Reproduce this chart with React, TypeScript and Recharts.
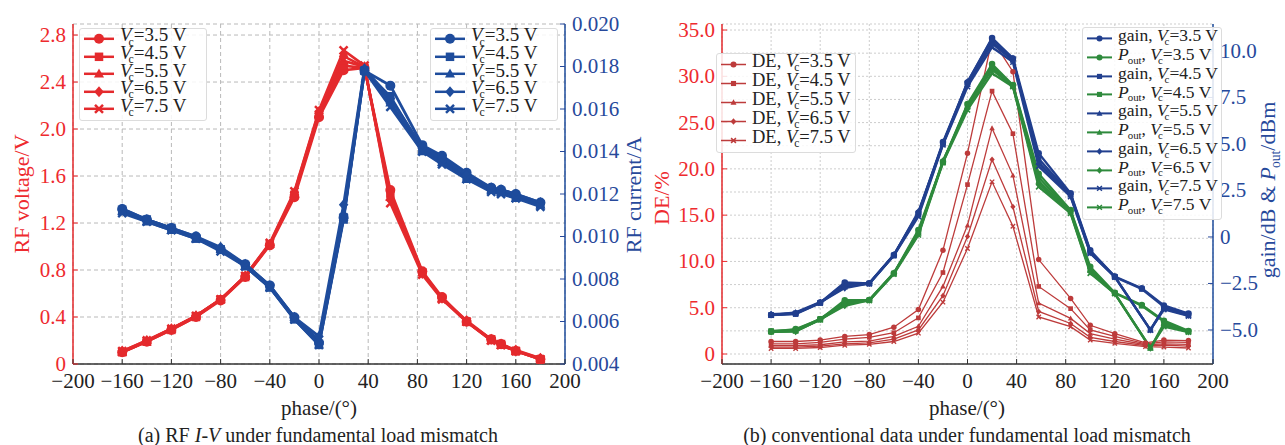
import React from 'react'
import { ComposedChart, Line, XAxis, YAxis, CartesianGrid, Legend } from 'recharts'

const FONT = '"Liberation Serif", "Times New Roman", serif'

// (a) RF I-V under fundamental load mismatch
const PHASE_A = [-160, -140, -120, -100, -80, -60, -40, -20, 0, 20, 37, 58, 84, 100, 120, 140, 148, 160, 180]
const VOLT_35 = [0.10, 0.19, 0.29, 0.40, 0.54, 0.74, 1.01, 1.42, 2.10, 2.50, 2.52, 1.48, 0.79, 0.57, 0.36, 0.21, 0.17, 0.11, 0.04]
const VOLT_45 = [0.10, 0.19, 0.29, 0.40, 0.55, 0.74, 1.02, 1.44, 2.12, 2.54, 2.52, 1.45, 0.78, 0.56, 0.36, 0.21, 0.17, 0.11, 0.04]
const VOLT_55 = [0.10, 0.19, 0.30, 0.41, 0.55, 0.75, 1.02, 1.45, 2.13, 2.58, 2.53, 1.42, 0.78, 0.56, 0.36, 0.20, 0.16, 0.11, 0.05]
const VOLT_65 = [0.11, 0.20, 0.30, 0.41, 0.55, 0.75, 1.02, 1.46, 2.15, 2.62, 2.53, 1.40, 0.77, 0.56, 0.37, 0.21, 0.17, 0.12, 0.05]
const VOLT_75 = [0.11, 0.20, 0.30, 0.41, 0.55, 0.75, 1.03, 1.47, 2.16, 2.67, 2.54, 1.37, 0.76, 0.55, 0.36, 0.20, 0.16, 0.11, 0.04]
const CURR_35 = [0.0113, 0.0108, 0.0104, 0.0100, 0.0094, 0.0087, 0.0077, 0.0062, 0.0050, 0.0109, 0.0178, 0.0171, 0.0143, 0.0138, 0.0130, 0.0123, 0.0122, 0.0120, 0.0116]
const CURR_45 = [0.0112, 0.0108, 0.0104, 0.0099, 0.0094, 0.0086, 0.0076, 0.0061, 0.0049, 0.0108, 0.0178, 0.0166, 0.0141, 0.0136, 0.0128, 0.0122, 0.0121, 0.0119, 0.0115]
const CURR_55 = [0.0112, 0.0107, 0.0103, 0.0099, 0.0094, 0.0086, 0.0076, 0.0062, 0.0051, 0.0110, 0.0179, 0.0163, 0.0140, 0.0135, 0.0127, 0.0122, 0.0121, 0.0118, 0.0115]
const CURR_65 = [0.0113, 0.0108, 0.0104, 0.0100, 0.0095, 0.0087, 0.0077, 0.0062, 0.0053, 0.0115, 0.0179, 0.0165, 0.0142, 0.0137, 0.0129, 0.0123, 0.0122, 0.0120, 0.0116]
const CURR_75 = [0.0111, 0.0107, 0.0103, 0.0099, 0.0093, 0.0086, 0.0076, 0.0061, 0.0049, 0.0109, 0.0178, 0.0161, 0.0140, 0.0134, 0.0127, 0.0121, 0.0120, 0.0118, 0.0114]

// (b) conventional data under fundamental load mismatch
const PHASE_DE = [-160, -140, -120, -100, -80, -60, -40, -20, 0, 20, 37, 58, 84, 100, 120, 145, 160, 180]
const PHASE_B1 = [-160, -140, -120, -100, -80, -60, -40, -20, 0, 20, 37, 58, 84, 100, 120, 142, 160, 180]
const PHASE_B2 = [-160, -140, -120, -100, -80, -60, -40, -20, 0, 20, 37, 58, 84, 100, 120, 149, 160, 180]
const DE_35 = [1.35, 1.35, 1.5, 1.9, 2.1, 2.9, 4.8, 11.2, 21.7, 34.0, 30.5, 10.2, 6.0, 3.1, 2.2, 1.2, 1.5, 1.45]
const DE_45 = [1.1, 1.1, 1.25, 1.6, 1.8, 2.3, 3.9, 8.8, 18.3, 28.4, 23.8, 7.3, 4.9, 2.6, 1.9, 1.1, 1.3, 1.25]
const DE_55 = [0.9, 0.9, 1.0, 1.3, 1.4, 1.9, 3.0, 7.3, 13.9, 24.4, 19.3, 5.5, 3.85, 2.2, 1.6, 1.0, 1.1, 1.05]
const DE_65 = [0.75, 0.75, 0.85, 1.1, 1.2, 1.6, 2.6, 6.3, 12.7, 21.0, 15.9, 4.6, 3.3, 1.8, 1.35, 0.9, 0.95, 0.85]
const DE_75 = [0.6, 0.6, 0.7, 0.95, 1.05, 1.35, 2.25, 5.6, 11.4, 18.6, 13.8, 4.0, 2.95, 1.5, 1.15, 0.8, 0.75, 0.65]
const GAIN_35 = [-4.2, -4.1, -3.53, -2.45, -2.49, -0.97, 1.3, 5.1, 8.3, 10.7, 9.6, 4.5, 2.35, -0.72, -2.13, -2.76, -3.68, -4.12]
const GAIN_45 = [-4.2, -4.15, -3.55, -2.5, -2.5, -1.0, 1.2, 5.0, 8.25, 10.5, 9.55, 4.2, 2.3, -0.78, -2.15, -2.8, -3.75, -4.15]
const GAIN_55 = [-4.2, -4.05, -3.5, -2.7, -2.48, -0.95, 1.25, 5.05, 8.2, 10.4, 9.5, 4.0, 2.25, -0.82, -2.12, -5.0, -3.8, -4.2]
const GAIN_65 = [-4.15, -4.1, -3.52, -2.75, -2.5, -0.98, 1.36, 5.0, 8.35, 10.65, 9.6, 3.95, 2.2, -0.85, -2.14, -5.0, -3.85, -4.22]
const GAIN_75 = [-4.2, -4.12, -3.55, -2.6, -2.52, -1.0, 1.1, 4.95, 8.08, 10.2, 9.4, 3.8, 2.17, -0.88, -2.15, -5.0, -3.9, -4.25]
const POUT_35 = [-5.09, -4.95, -4.43, -3.4, -3.39, -1.95, 0.38, 4.05, 7.15, 9.3, 8.17, 3.4, 1.45, -1.6, -3.0, -3.66, -4.5, -5.05]
const POUT_45 = [-5.05, -5.0, -4.4, -3.5, -3.4, -1.97, 0.3, 4.0, 7.1, 9.1, 8.15, 3.2, 1.4, -1.7, -3.02, -3.7, -4.55, -5.08]
const POUT_55 = [-5.09, -5.05, -4.45, -3.6, -3.38, -1.93, 0.2, 4.05, 7.0, 9.0, 8.1, 3.0, 1.35, -1.8, -3.03, -5.98, -4.65, -5.09]
const POUT_65 = [-5.1, -5.09, -4.43, -3.7, -3.4, -1.95, 0.15, 4.1, 6.9, 9.2, 8.12, 2.85, 1.3, -1.88, -3.05, -5.98, -4.75, -5.1]
const POUT_75 = [-5.1, -5.05, -4.45, -3.55, -3.42, -2.0, 0.11, 4.0, 6.83, 8.8, 8.08, 2.7, 1.27, -1.95, -3.05, -5.95, -4.82, -5.12]

const VC = ['3.5', '4.5', '5.5', '6.5', '7.5']
const SHAPES = ['o', 's', '^', 'D', 'x']
const X_TICKS = [-200, -160, -120, -80, -40, 0, 40, 80, 120, 160, 200]
const VOLT_TICKS = [0, 0.4, 0.8, 1.2, 1.6, 2.0, 2.4, 2.8]
const CURR_TICKS = [0.004, 0.006, 0.008, 0.01, 0.012, 0.014, 0.016, 0.018, 0.02]
const DE_TICKS = [0, 2.5, 5, 7.5, 10, 12.5, 15, 17.5, 20, 22.5, 25, 27.5, 30, 32.5, 35]
const GAIN_TICKS = [-5, -2.5, 0, 2.5, 5, 7.5, 10]

const RED_A = '#e42a2d'
const BLUE_A = '#1e4c9c'
const RED_TXT = '#ee2a2e'
const BLUE_TXT = '#27499b'
const GAIN_C = '#213f8e'
const POUT_C = '#2e8a3c'
const DE_C = '#bd3b3b'

const toPts = (xs: number[], ys: number[]) => xs.map((x, i) => ({ x, y: ys[i] }))
const minus = (s: string) => s.replace('-', '\u2212')

const Marker = ({ cx, cy, shape, size, color }: any) => {
  if (cx == null || cy == null) return <g />
  const r = size / 2
  switch (shape) {
    case 's':
      return <rect x={cx - r * 0.85} y={cy - r * 0.85} width={r * 1.7} height={r * 1.7} fill={color} />
    case '^':
      return <polygon points={`${cx},${cy - r * 1.05} ${cx + r},${cy + r * 0.75} ${cx - r},${cy + r * 0.75}`} fill={color} />
    case 'D':
      return <polygon points={`${cx},${cy - r * 1.1} ${cx + r * 0.95},${cy} ${cx},${cy + r * 1.1} ${cx - r * 0.95},${cy}`} fill={color} />
    case 'x':
      return (
        <path
          d={`M${cx - r * 0.8},${cy - r * 0.8}L${cx + r * 0.8},${cy + r * 0.8}M${cx - r * 0.8},${cy + r * 0.8}L${cx + r * 0.8},${cy - r * 0.8}`}
          stroke={color}
          strokeWidth={Math.max(1.2, size / 4)}
        />
      )
    default:
      return <circle cx={cx} cy={cy} r={r} fill={color} />
  }
}

const makeTick = (side: string, color: string, fmt: (v: number) => string, m: number) => (p: any) => {
  const { x, y, payload } = p
  const label = fmt(payload.value)
  if (label === '') return <g />
  if (side === 'bottom') {
    return (
      <g>
        <line x1={x} x2={x} y1={y - m} y2={y - m - 5} stroke="#333" />
        <text x={x} y={y} dy="0.71em" textAnchor="middle" fill="#222" fontSize={21} fontFamily={FONT}>{label}</text>
      </g>
    )
  }
  const ax = side === 'left' ? x + m : x - m
  const inward = side === 'left' ? ax + 5 : ax - 5
  return (
    <g>
      <line x1={ax} x2={inward} y1={y} y2={y} stroke={color} />
      <text x={x} y={y} dy="0.33em" textAnchor={side === 'left' ? 'end' : 'start'} fill={color} fontSize={21} fontFamily={FONT}>{label}</text>
    </g>
  )
}

const fmtX = (v: number) => minus(String(v))
const fmtVolt = (v: number) => (v === 0 ? '0' : v.toFixed(1))
const fmtCurr = (v: number) => v.toFixed(3)
const fmtDE = (v: number) => (v === 0 ? '0' : v % 5 === 0 ? v.toFixed(1) : '')
const fmtGain = (v: number) => (v === 0 ? '0' : minus(v.toFixed(1)))

const Sub = ({ t }: { t: string }) => (
  <span style={{ fontSize: '0.62em', verticalAlign: '-0.35em', marginLeft: t === 'c' ? -3 : -1 }}>{t}</span>
)

const VcText = ({ v }: { v: string }) => (
  <>
    <i>V</i>
    <Sub t="c" />={v} V
  </>
)

const LegendBox = ({ left, top, rows, fontSize, rowH, iconW, lw, ms, padR }: any) => (
  <div
    style={{
      position: 'absolute',
      left,
      top,
      background: 'rgba(255,255,255,0.85)',
      border: '1px solid #dcdcdc',
      borderRadius: 3,
      padding: `1px ${padR}px 2px 3px`,
      fontFamily: FONT,
      fontSize,
      color: '#222',
      whiteSpace: 'nowrap',
    }}
  >
    {rows.map((r: any, i: number) => (
      <div key={i} style={{ display: 'flex', alignItems: 'center', height: rowH }}>
        <svg width={iconW} height={rowH} style={{ flex: 'none', marginRight: 5 }}>
          <line x1={1} x2={iconW - 1} y1={rowH / 2} y2={rowH / 2} stroke={r.color} strokeWidth={lw} />
          <Marker cx={iconW / 2} cy={rowH / 2} shape={r.shape} size={ms} color={r.color} />
        </svg>
        <span style={{ lineHeight: `${rowH}px` }}>{r.label}</span>
      </div>
    ))}
  </div>
)

const Txt = ({ x, y, rot, color, size, children }: any) => (
  <div
    style={{
      position: 'absolute',
      left: x,
      top: y,
      transform: `translate(-50%, -50%)${rot ? ' rotate(-90deg)' : ''}`,
      whiteSpace: 'nowrap',
      fontFamily: FONT,
      fontSize: size,
      color,
      lineHeight: 1,
    }}
  >
    {children}
  </div>
)

const voltSeries = [VOLT_35, VOLT_45, VOLT_55, VOLT_65, VOLT_75]
const currSeries = [CURR_35, CURR_45, CURR_55, CURR_65, CURR_75]
const deSeries = [DE_35, DE_45, DE_55, DE_65, DE_75]
const gainSeries = [GAIN_35, GAIN_45, GAIN_55, GAIN_65, GAIN_75]
const poutSeries = [POUT_35, POUT_45, POUT_55, POUT_65, POUT_75]
const bPhase = [PHASE_B1, PHASE_B1, PHASE_B2, PHASE_B2, PHASE_B2]

const ChartA = () => (
  <ComposedChart width={640} height={445} margin={{ top: 24, right: 0, bottom: 0, left: 0 }}>
    <CartesianGrid xAxisId="x" yAxisId="v" stroke="#b9b9b9" strokeDasharray="4 3" />
    <XAxis xAxisId="x" dataKey="x" type="number" domain={[-200, 200]} ticks={X_TICKS} allowDataOverflow height={81}
      axisLine={{ stroke: '#333', strokeWidth: 1.5 }} tickLine={false} tickSize={0} tickMargin={9} tick={makeTick('bottom', '#333', fmtX, 9)} />
    <XAxis xAxisId="top" orientation="top" type="number" domain={[-200, 200]} height={0} tick={false} tickLine={false}
      axisLine={{ stroke: '#333', strokeWidth: 1.5 }} />
    <YAxis yAxisId="v" type="number" domain={[0, 2.894]} ticks={VOLT_TICKS} allowDataOverflow width={73}
      axisLine={{ stroke: RED_A, strokeWidth: 1.5 }} tickLine={false} tickSize={0} tickMargin={7} tick={makeTick('left', RED_TXT, fmtVolt, 7)} />
    <YAxis yAxisId="i" orientation="right" type="number" domain={[0.004, 0.02]} ticks={CURR_TICKS} allowDataOverflow width={75}
      axisLine={{ stroke: BLUE_A, strokeWidth: 1.5 }} tickLine={false} tickSize={0} tickMargin={7} tick={makeTick('right', BLUE_TXT, fmtCurr, 7)} />
    {voltSeries.map((ys, i) => (
      <Line key={`v${i}`} xAxisId="x" yAxisId="v" data={toPts(PHASE_A, ys)} dataKey="y" name={`volt ${VC[i]}`}
        stroke={RED_A} strokeWidth={2.6} isAnimationActive={false} activeDot={false} legendType="none"
        dot={(p: any) => <Marker key={`vd${i}-${p.index}`} cx={p.cx} cy={p.cy} shape={SHAPES[i]} size={10} color={RED_A} />} />
    ))}
    {currSeries.map((ys, i) => (
      <Line key={`c${i}`} xAxisId="x" yAxisId="i" data={toPts(PHASE_A, ys)} dataKey="y" name={`curr ${VC[i]}`}
        stroke={BLUE_A} strokeWidth={2.8} isAnimationActive={false} activeDot={false} legendType="none"
        dot={(p: any) => <Marker key={`cd${i}-${p.index}`} cx={p.cx} cy={p.cy} shape={SHAPES[i]} size={10} color={BLUE_A} />} />
    ))}
    <Legend layout="vertical" align="center" verticalAlign="middle"
      wrapperStyle={{ left: 0, top: 0, width: 640, height: 0, margin: 0 }}
      content={() => (
        <>
          <LegendBox left={79} top={28} fontSize={19} rowH={17.6} iconW={32} lw={2.5} ms={10} padR={20}
            rows={VC.map((v, i) => ({ color: RED_A, shape: SHAPES[i], label: <VcText v={v} /> }))} />
          <LegendBox left={430} top={28} fontSize={19} rowH={17.6} iconW={32} lw={2.5} ms={10} padR={20}
            rows={VC.map((v, i) => ({ color: BLUE_A, shape: SHAPES[i], label: <VcText v={v} /> }))} />
        </>
      )} />
  </ComposedChart>
)

const ChartB = () => (
  <ComposedChart width={645} height={445} margin={{ top: 24, right: 0, bottom: 0, left: 0 }}>
    <CartesianGrid xAxisId="x" yAxisId="de" stroke="#cdcdcd" strokeDasharray="2 2" />
    <XAxis xAxisId="x" dataKey="x" type="number" domain={[-200, 200]} ticks={X_TICKS} allowDataOverflow height={81}
      axisLine={{ stroke: '#333', strokeWidth: 1.5 }} tickLine={false} tickSize={0} tickMargin={9} tick={makeTick('bottom', '#333', fmtX, 9)} />
    <XAxis xAxisId="top" orientation="top" type="number" domain={[-200, 200]} height={0} tick={false} tickLine={false}
      axisLine={{ stroke: '#333', strokeWidth: 1.5 }} />
    <YAxis yAxisId="de" type="number" domain={[-1.08, 35.65]} ticks={DE_TICKS} allowDataOverflow width={82}
      axisLine={{ stroke: RED_A, strokeWidth: 1.5 }} tickLine={false} tickSize={0} tickMargin={7} tick={makeTick('left', RED_TXT, fmtDE, 7)} />
    <YAxis yAxisId="g" orientation="right" type="number" domain={[-6.83, 11.45]} ticks={GAIN_TICKS} allowDataOverflow width={72}
      axisLine={{ stroke: BLUE_A, strokeWidth: 1.5 }} tickLine={false} tickSize={0} tickMargin={7} tick={makeTick('right', BLUE_TXT, fmtGain, 7)} />
    {deSeries.map((ys, i) => (
      <Line key={`d${i}`} xAxisId="x" yAxisId="de" data={toPts(PHASE_DE, ys)} dataKey="y" name={`DE ${VC[i]}`}
        stroke={DE_C} strokeWidth={1.3} isAnimationActive={false} activeDot={false} legendType="none"
        dot={(p: any) => <Marker key={`dd${i}-${p.index}`} cx={p.cx} cy={p.cy} shape={SHAPES[i]} size={5.5} color={DE_C} />} />
    ))}
    {VC.map((v, i) => (
      <React.Fragment key={`gp${i}`}>
        <Line xAxisId="x" yAxisId="g" data={toPts(bPhase[i], gainSeries[i])} dataKey="y" name={`gain ${v}`}
          stroke={GAIN_C} strokeWidth={2.3} isAnimationActive={false} activeDot={false} legendType="none"
          dot={(p: any) => <Marker key={`gd${i}-${p.index}`} cx={p.cx} cy={p.cy} shape={SHAPES[i]} size={6.5} color={GAIN_C} />} />
        <Line xAxisId="x" yAxisId="g" data={toPts(bPhase[i], poutSeries[i])} dataKey="y" name={`pout ${v}`}
          stroke={POUT_C} strokeWidth={2.3} isAnimationActive={false} activeDot={false} legendType="none"
          dot={(p: any) => <Marker key={`pd${i}-${p.index}`} cx={p.cx} cy={p.cy} shape={SHAPES[i]} size={6.5} color={POUT_C} />} />
      </React.Fragment>
    ))}
    <Legend layout="vertical" align="center" verticalAlign="middle"
      wrapperStyle={{ left: 0, top: 0, width: 645, height: 0, margin: 0 }}
      content={() => (
        <>
          <LegendBox left={76} top={53} fontSize={18.5} rowH={19} iconW={27} lw={1.5} ms={6} padR={4}
            rows={VC.map((v, i) => ({ color: DE_C, shape: SHAPES[i], label: <>DE, <VcText v={v} /></> }))} />
          <LegendBox left={442} top={27} fontSize={17.5} rowH={18.8} iconW={27} lw={2} ms={6} padR={3}
            rows={VC.flatMap((v, i) => [
              { color: GAIN_C, shape: SHAPES[i], label: <>gain, <VcText v={v} /></> },
              { color: POUT_C, shape: SHAPES[i], label: <><i>P</i><Sub t="out" />, <VcText v={v} /></> },
            ])} />
        </>
      )} />
  </ComposedChart>
)

export default function App() {
  return (
    <div style={{ position: 'absolute', left: 0, top: 0, width: 1285, height: 445, background: '#fff', fontFamily: FONT }}>
      <div style={{ position: 'absolute', left: 0, top: 0 }}>
        <ChartA />
      </div>
      <div style={{ position: 'absolute', left: 640, top: 0 }}>
        <ChartB />
      </div>
      <Txt x={22} y={194} rot color={RED_TXT} size={22}>RF voltage/V</Txt>
      <Txt x={634} y={195} rot color={BLUE_TXT} size={22}>RF current/A</Txt>
      <Txt x={319} y={408} color="#222" size={21}>phase/(°)</Txt>
      <Txt x={318} y={435} color="#222" size={20}>(a) RF <i>I</i>-<i>V</i> under fundamental load mismatch</Txt>
      <Txt x={662} y={198} rot color={RED_TXT} size={22}>DE/%</Txt>
      <Txt x={1270} y={190} rot color={BLUE_TXT} size={22}>gain/dB &amp; <i>P</i><Sub t="out" />/dBm</Txt>
      <Txt x={967} y={408} color="#222" size={21}>phase/(°)</Txt>
      <Txt x={967} y={435} color="#222" size={20}>(b) conventional data under fundamental load mismatch</Txt>
    </div>
  )
}
